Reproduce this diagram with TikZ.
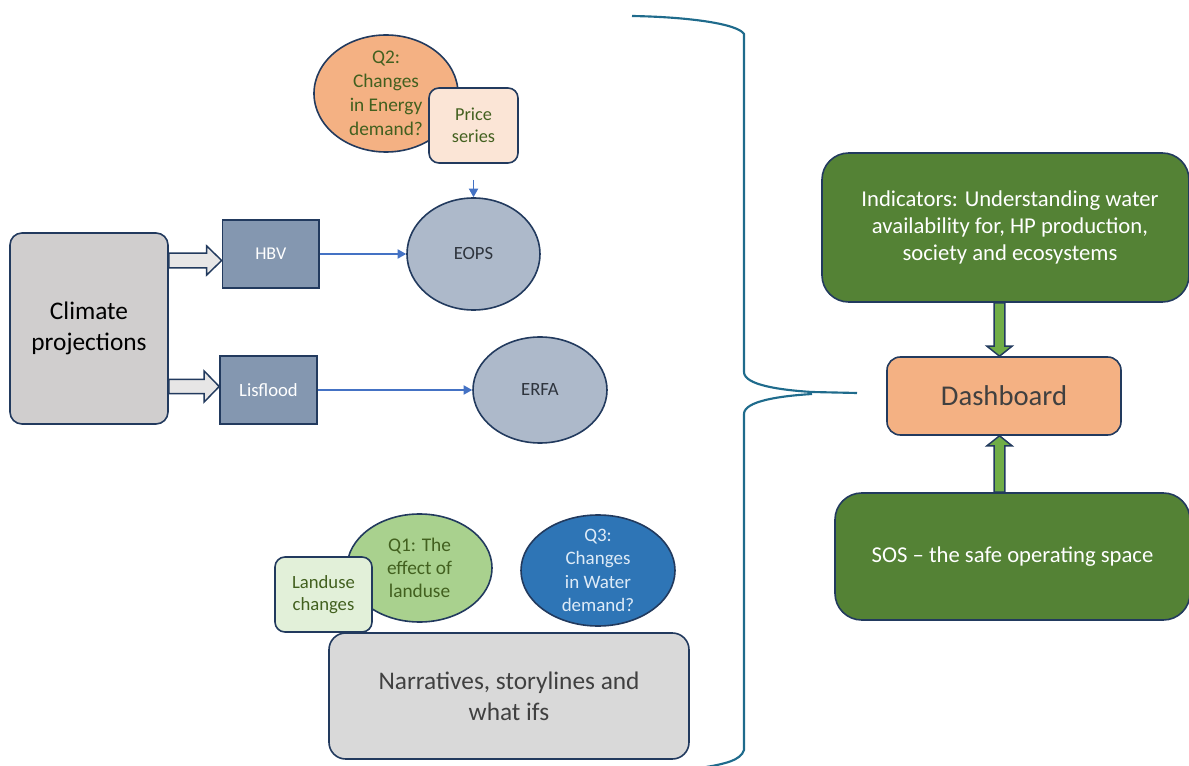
\documentclass[tikz,border=0pt]{standalone}
\usepackage{fontspec}
\setmainfont{Carlito}
\usetikzlibrary{arrows.meta,calc,shapes.geometric}

\definecolor{edgenavy}{HTML}{223A5E}
\definecolor{climfill}{HTML}{D0CECE}
\definecolor{modelfill}{HTML}{8497B0}
\definecolor{outfill}{HTML}{ADB9CA}
\definecolor{outtext}{HTML}{2E343D}
\definecolor{peach}{HTML}{F4B183}
\definecolor{peachlight}{HTML}{FBE5D6}
\definecolor{leaf}{HTML}{A9D18E}
\definecolor{leaflight}{HTML}{E2F0D9}
\definecolor{olivetext}{HTML}{42601F}
\definecolor{waterblue}{HTML}{2E75B6}
\definecolor{waterlight}{HTML}{DEEBF7}
\definecolor{storygray}{HTML}{D9D9D9}
\definecolor{darktext}{HTML}{404040}
\definecolor{forest}{HTML}{548235}
\definecolor{grass}{HTML}{70AD47}
\definecolor{pale}{HTML}{E7E6E6}
\definecolor{linkblue}{HTML}{4472C4}
\definecolor{bracecol}{HTML}{1F6B8C}

\newcommand\setfs[2]{\fontsize{#1}{#2}\selectfont}

\tikzset{
  shapebox/.style={draw=edgenavy, line width=1.2pt, inner sep=0pt, align=center},
  oval/.style={ellipse, draw=edgenavy, line width=1.2pt, inner sep=0pt},
  ovaltext/.style={align=center, inner sep=0pt},
  thinlink/.style={draw=linkblue, line width=0.9pt, -{Triangle[length=6.5pt,width=7pt]}},
  greyblock/.style={draw=edgenavy, line width=1.1pt, fill=pale, line join=miter},
  greenblock/.style={draw=edgenavy, line width=1.1pt, fill=grass, line join=miter},
  bracepath/.style={draw=bracecol, line width=1.6pt}
}

\begin{document}
\begin{tikzpicture}[x=0.75pt,y=-0.75pt]
\useasboundingbox (0,0) rectangle (1189,766);

% ---------- left column: inputs and models ----------
\node[shapebox, fill=climfill, rounded corners=9pt, minimum width=118.5pt, minimum height=143.25pt,
      text=black, font=\setfs{19pt}{23pt}] (clim) at (89,328.5) {Climate\\projections};

\node[shapebox, fill=modelfill, minimum width=72.4pt, minimum height=51pt,
      text=white, font=\setfs{13.5pt}{16pt}] (hbv) at (270.75,254) {HBV};
\node[shapebox, fill=modelfill, minimum width=72.75pt, minimum height=51pt,
      text=white, font=\setfs{14pt}{16pt}] (lis) at (268.5,390) {Lisflood};

% model outputs
\node[oval, fill=outfill, minimum width=99.75pt, minimum height=84pt,
      text=outtext, font=\setfs{14pt}{16pt}] (eops) at (473.5,254) {EOPS};
\node[oval, fill=outfill, minimum width=100.5pt, minimum height=79.5pt,
      text=outtext, font=\setfs{14pt}{16pt}] (erfa) at (540,390) {ERFA};

% energy question and price input
\node[oval, fill=peach, minimum width=108pt, minimum height=87.75pt] (q2) at (386,93.5) {};
\node[ovaltext, text=olivetext, font=\setfs{14.5pt}{18pt}] (q2t) at (q2) {Q2:\\Changes\\in Energy\\demand?};
\node[shapebox, fill=peachlight, rounded corners=7.5pt, minimum width=66.75pt, minimum height=56.25pt,
      text=olivetext, font=\setfs{13.7pt}{16.5pt}] (price) at (473.5,125.5) {Price\\series};
\coordinate (pricefeed) at (473.5,180);

% horizontal block arrows from the climate box
\coordinate (ya) at (0,260.5);
\coordinate (yb) at (0,386.5);
\draw[greyblock] let \p1=(clim.east |- ya), \p2=(hbv.west |- ya) in
  (\x1,\y1+5.6pt) -- (\x2-11.25pt,\y1+5.6pt) -- (\x2-11.25pt,\y1+10.9pt) -- (\x2,\y1)
  -- (\x2-11.25pt,\y1-10.9pt) -- (\x2-11.25pt,\y1-5.6pt) -- (\x1,\y1-5.6pt) -- cycle;
\draw[greyblock] let \p1=(clim.east |- yb), \p2=(lis.west |- yb) in
  (\x1,\y1+5.3pt) -- (\x2-11.25pt,\y1+5.3pt) -- (\x2-11.25pt,\y1+11.6pt) -- (\x2,\y1)
  -- (\x2-11.25pt,\y1-11.6pt) -- (\x2-11.25pt,\y1-5.3pt) -- (\x1,\y1-5.3pt) -- cycle;

% thin links
\draw[thinlink] (hbv) -- (eops);
\draw[thinlink] (lis) -- (erfa);
\draw[thinlink] (pricefeed) -- (eops.north);

% ---------- lower group: questions and narratives ----------
\node[oval, fill=leaf, minimum width=108.75pt, minimum height=81pt] (q1) at (419.5,568) {};
\node[ovaltext, text=olivetext, font=\setfs{14.5pt}{17.5pt}] (q1t) at (q1) {Q1: The\\effect of\\landuse};
\node[shapebox, fill=leaflight, rounded corners=7.5pt, minimum width=72.75pt, minimum height=56.25pt,
      text=olivetext, font=\setfs{14pt}{17pt}] (land) at (323.5,594.5) {Landuse\\changes};
\node[oval, fill=waterblue, minimum width=115.5pt, minimum height=83.25pt] (q3) at (598,570.5) {};
\node[ovaltext, text=waterlight, font=\setfs{14.25pt}{17.5pt}] (q3t) at (q3) {Q3:\\Changes\\in Water\\demand?};
\node[shapebox, fill=storygray, rounded corners=12.5pt, minimum width=270pt, minimum height=94.5pt,
      text=darktext, font=\setfs{19pt}{23pt}] (story) at (509,696) {Narratives, storylines and\\what ifs};

% ---------- curly brace ----------
\draw[bracepath]
  (632,16) .. controls (690,17) and (738,24) .. (744,34)
  -- (744,372) .. controls (744,385) and (780,390) .. (812,392) -- (857,393);
\draw[bracepath]
  (812,394) .. controls (780,396) and (744,401) .. (744,414)
  -- (744,750) .. controls (741,760) and (726,764) .. (700,768);

% ---------- right column ----------
\node[shapebox, fill=forest, rounded corners=20pt, minimum width=275.25pt, minimum height=111.75pt] (ind) at (1005.5,227.5) {};
\node[ovaltext, text=white, font=\setfs{17pt}{20.5pt}] (indt) at ($(ind)+(4.5,0)$)
      {Indicators: Understanding water\\availability for, HP production,\\society and ecosystems};
\node[shapebox, fill=peach, rounded corners=10pt, minimum width=175.5pt, minimum height=58.5pt,
      text=darktext, font=\setfs{21.5pt}{25pt}] (dash) at (1004,396) {Dashboard};
\node[shapebox, fill=forest, rounded corners=20pt, minimum width=266.25pt, minimum height=95.25pt,
      text=white, font=\setfs{17pt}{20.5pt}] (sos) at (1012.5,556.5) {SOS -- the safe operating space};

% vertical block arrows into the dashboard
\coordinate (gx) at (999.5,0);
\draw[greenblock] let \p1=(ind.south -| gx), \p2=(dash.north -| gx) in
  (\x1-4.1pt,\y1) -- (\x1-4.1pt,\y2+7.5pt) -- (\x1-9.4pt,\y2+7.5pt) -- (\x2,\y2)
  -- (\x1+9.4pt,\y2+7.5pt) -- (\x1+4.1pt,\y2+7.5pt) -- (\x1+4.1pt,\y1) -- cycle;
\draw[greenblock] let \p1=(sos.north -| gx), \p2=(dash.south -| gx) in
  (\x1-4.1pt,\y1) -- (\x1-4.1pt,\y2-7.5pt) -- (\x1-9.4pt,\y2-7.5pt) -- (\x2,\y2)
  -- (\x1+9.4pt,\y2-7.5pt) -- (\x1+4.1pt,\y2-7.5pt) -- (\x1+4.1pt,\y1) -- cycle;

\end{tikzpicture}
\end{document}
